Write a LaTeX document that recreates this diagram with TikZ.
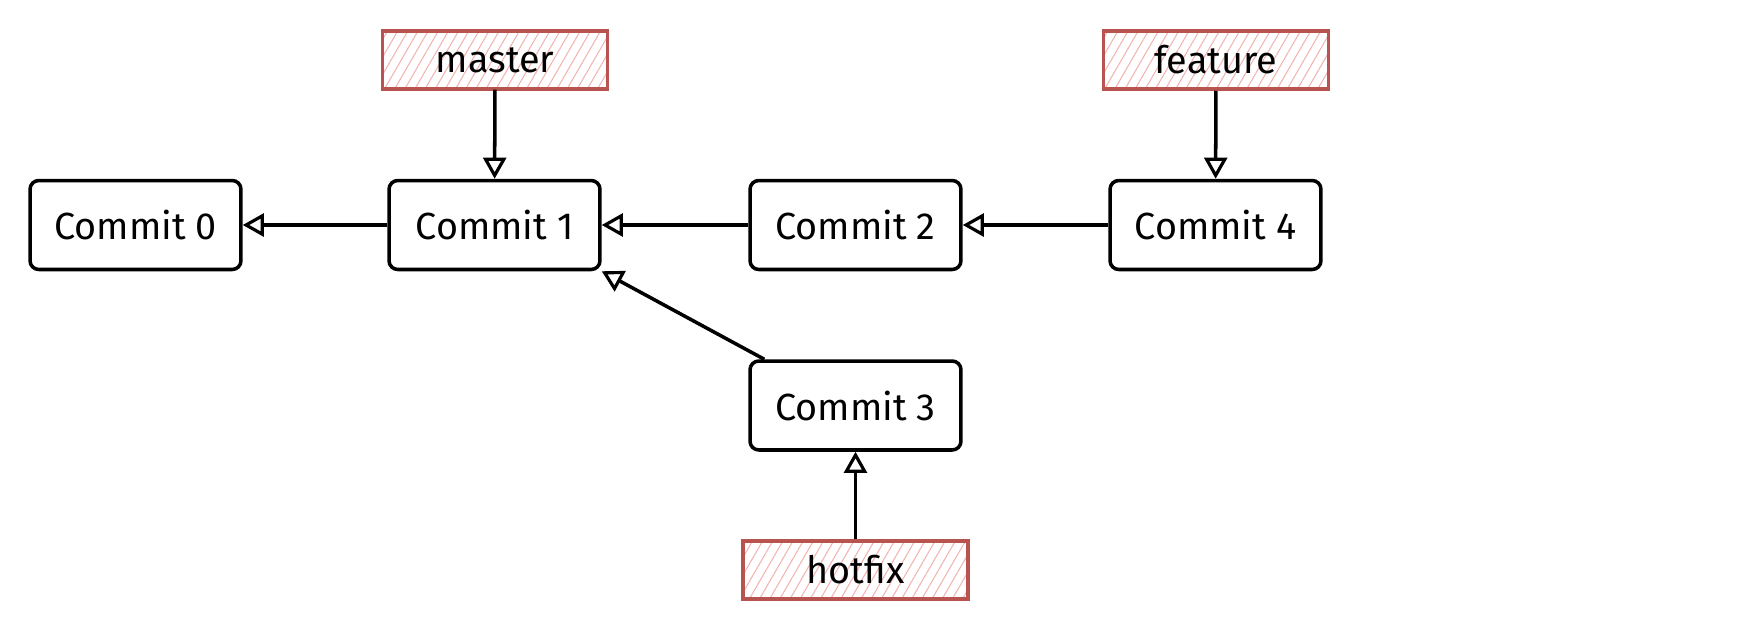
\documentclass[tikz,border=0pt]{standalone}
\usepackage{fontspec}
\setmainfont{Fira Sans}
\usetikzlibrary{arrows.meta}
\usetikzlibrary{patterns.meta}
\usetikzlibrary{positioning}
\definecolor{bred}{HTML}{B85450}
\definecolor{bpink}{HTML}{F2B3B1}

\begin{document}
\begin{tikzpicture}[x=0.02cm, y=-0.02cm,
    commit/.style={draw, line width=2pt, rounded corners=5pt, minimum width=4.22cm, minimum height=1.78cm, font=\fontsize{21.5}{25}\selectfont},
    branch/.style={draw=bred, line width=2pt, minimum width=4.5cm, minimum height=1.16cm, pattern={Lines[angle=60, distance=5pt, line width=0.6pt]}, pattern color=bpink, font=\fontsize{21.5}{25}\selectfont},
    link/.style={draw, line width=2pt, -{Triangle[open, length=12pt, width=13pt, line width=1.8pt]}}]
    \useasboundingbox (0, 0) rectangle (1742, 632);

    \node [commit] (0) at (135.5, 225) {Commit 0};
    \node [commit] (1) at (494.5, 225) {Commit 1};
    \node [commit] (2) at (855.5, 225) {Commit 2};
    \node [commit] (4) at (1215.5, 225) {Commit 4};
    \node [commit] (3) at (855.5, 405.5) {Commit 3};

    \node [branch] (m) at (495, 60) {master};
    \node [branch] (f) at (1216, 60) {feature};
    \node [branch] (h) at (855.5, 570) {hotfix};

    \draw [link] (1) -- (0);
    \draw [link] (2) -- (1);
    \draw [link] (4) -- (2);
    \draw [link] ([xshift=0.32cm]3.north west) -- (1.south east);

    \draw [link] (m) -- (1);
    \draw [link] (f) -- (4);
    \draw [link] (h) -- (3);
  \end{tikzpicture}
\end{document}
